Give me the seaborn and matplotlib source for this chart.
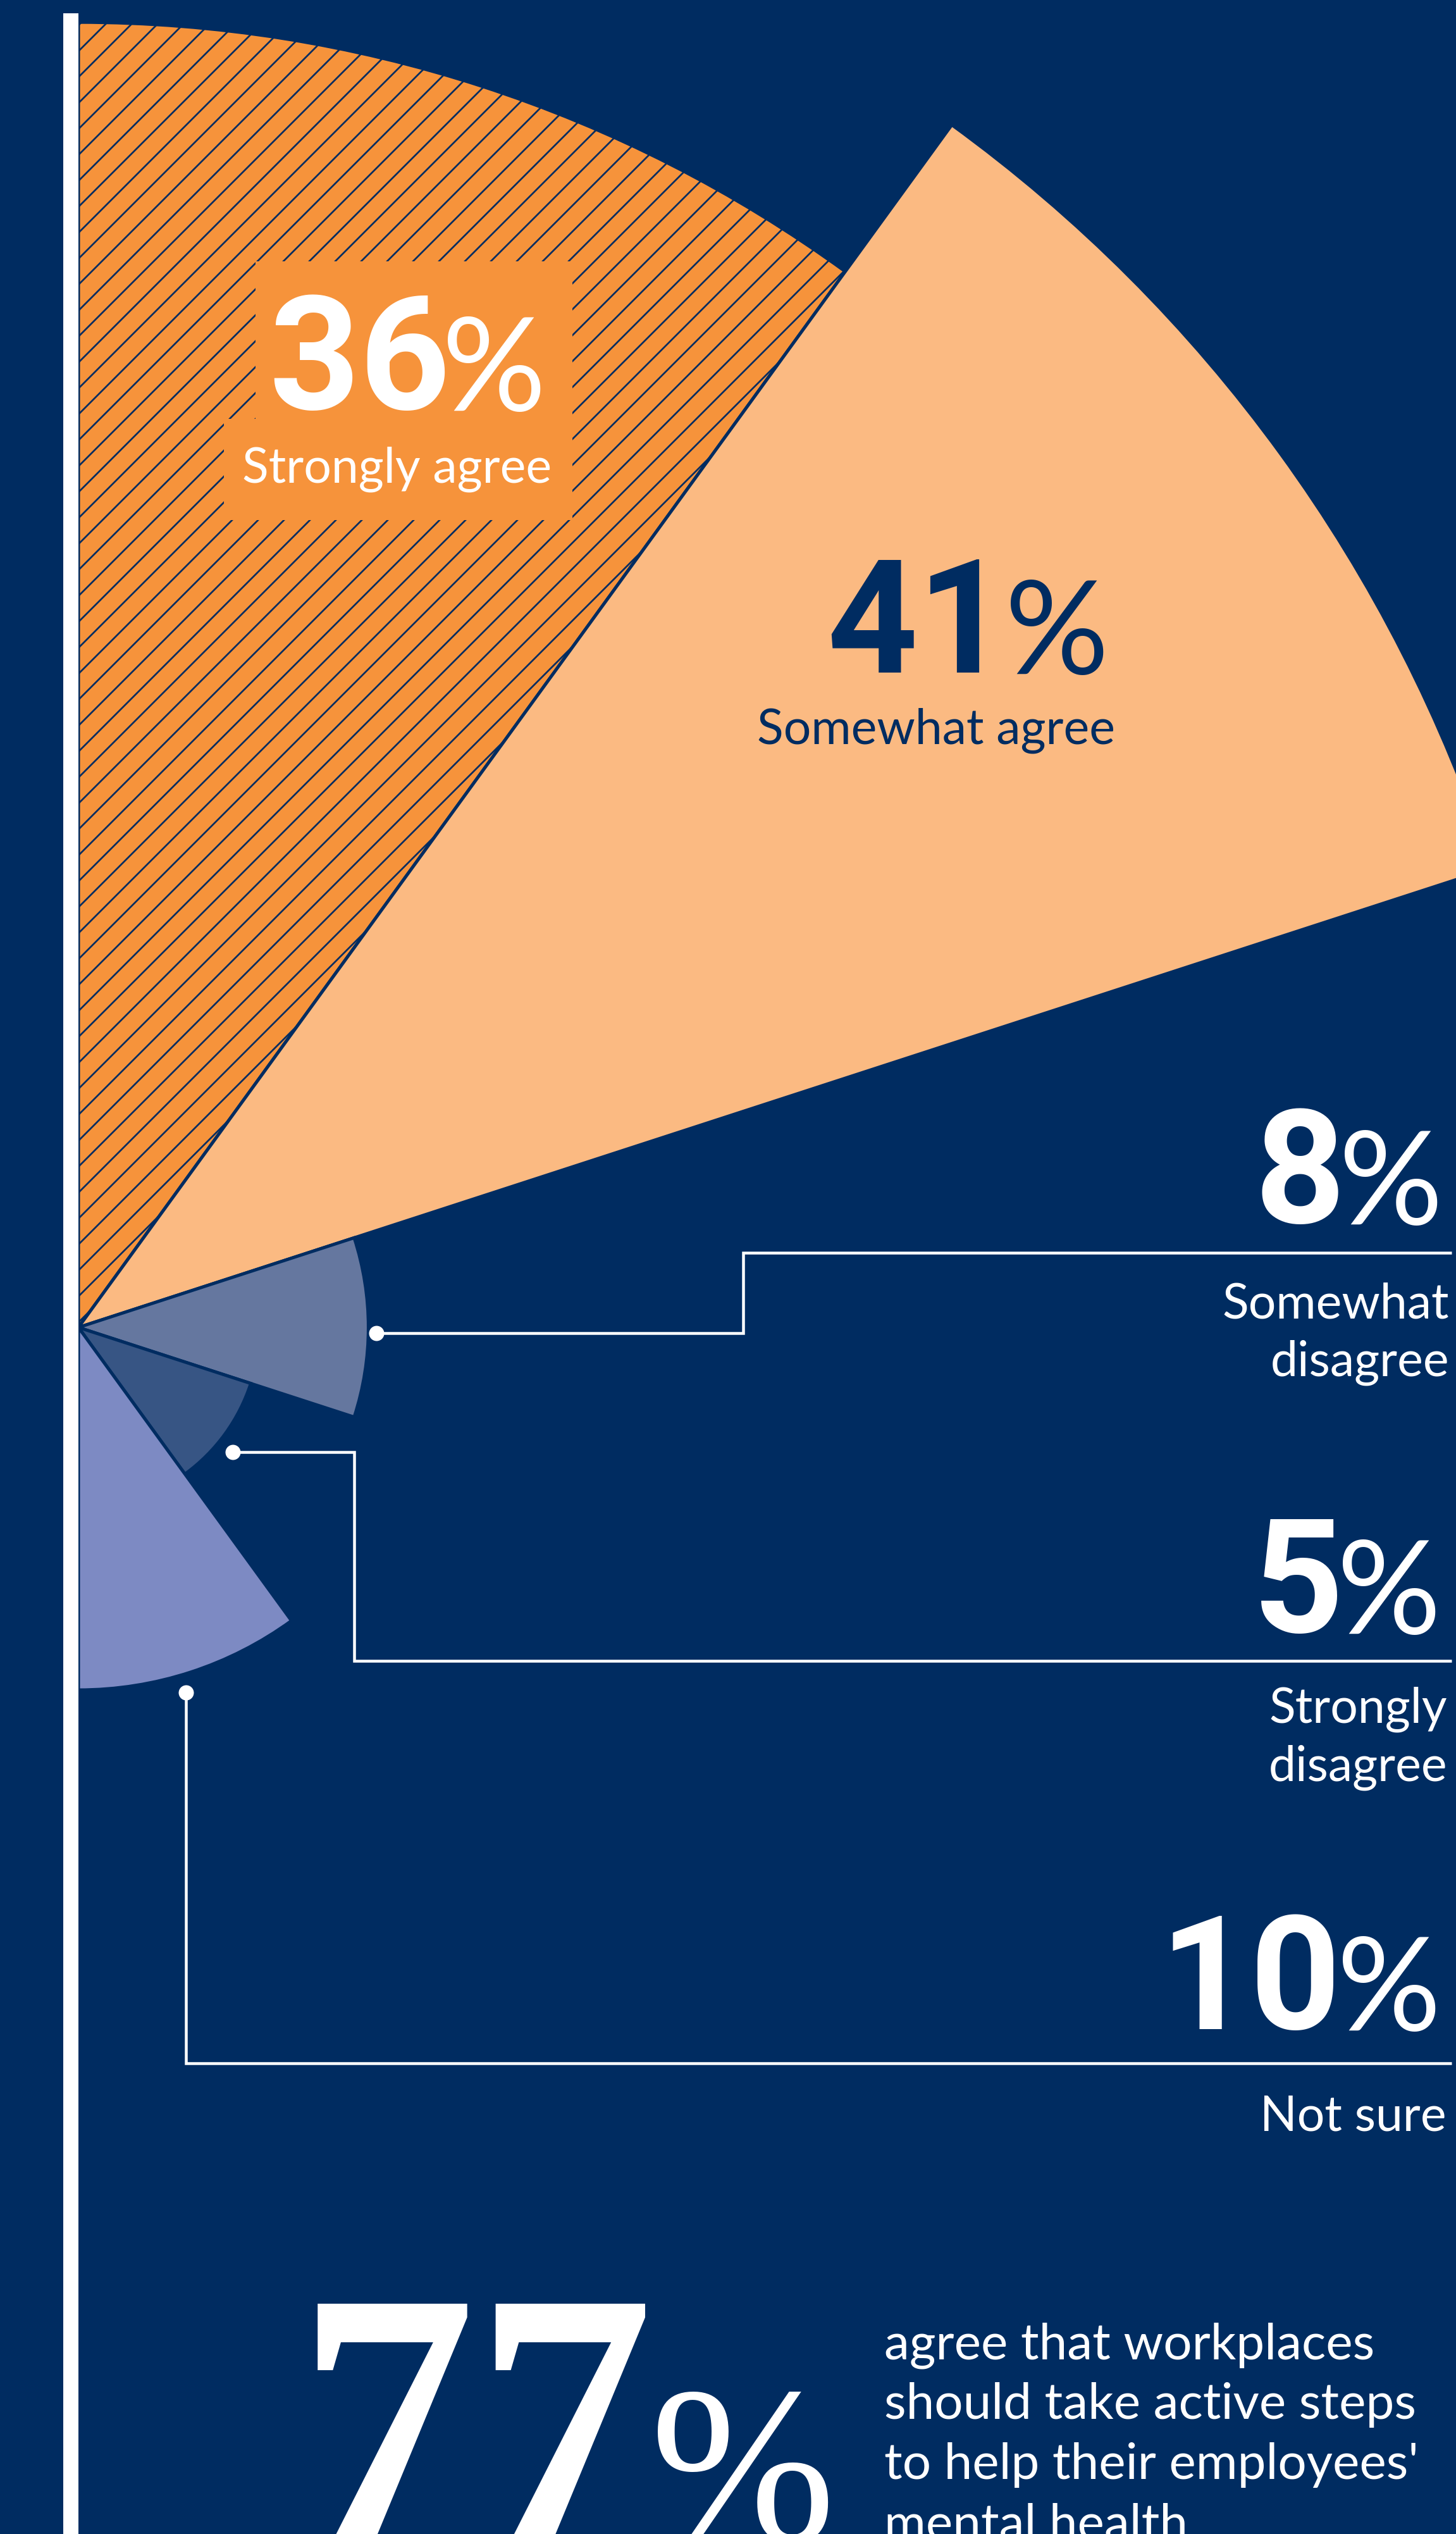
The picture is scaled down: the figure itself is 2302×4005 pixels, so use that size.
import numpy as np
import matplotlib
matplotlib.use("Agg")
import matplotlib.pyplot as plt
import seaborn as sns
from matplotlib.patches import Rectangle

# ---------------- data ----------------
categories = ["Strongly agree", "Somewhat agree", "Somewhat disagree",
              "Strongly disagree", "Not sure"]
values = [36, 41, 8, 5, 10]
value_labels = ["36", "41", "8", "5", "10"]
label_texts = ["Strongly agree", "Somewhat agree", "Somewhat\ndisagree",
               "Strongly\ndisagree", "Not sure"]
wedge_colors = ["#F6933B", "#FBBA82", "#65779F", "#375584", "#7D8AC3"]
headline_value = "77"
headline_lines = ["agree that workplaces", "should take active steps",
                  "to help their employees'", "mental health"]

NAVY = "#002C61"
WHITE = "#FFFFFF"
ORANGE = wedge_colors[0]

# ---------------- figure geometry (pixels) ----------------
W, H = 2302, 4005
DPI = 123


def pt(px):
    return px * 72.0 / DPI


sns.set_theme(style="white")
plt.rcParams["font.family"] = ["Lato", "DejaVu Sans"]
plt.rcParams["hatch.linewidth"] = pt(2.7)
plt.rcParams["hatch.color"] = NAVY

fig = plt.figure(figsize=(W / DPI, H / DPI), dpi=DPI, facecolor=NAVY)

# ---------------- polar area (rose) chart ----------------
CX, CY = 124, 2098      # centre of the rose, px from left / top
K = 57.3                # px per percentage point
RMAX = 44
R = RMAX * K
axp = fig.add_axes([(CX - R) / W, (H - CY - R) / H, 2 * R / W, 2 * R / H],
                   projection="polar")
axp.set_theta_zero_location("N")
axp.set_theta_direction(-1)
n = len(values)
width = np.pi / n
theta = (np.arange(n) + 0.5) * width
bars = axp.bar(theta, values, width=width, bottom=0, color=wedge_colors,
               edgecolor=NAVY, linewidth=pt(5), align="center")
bars[0].set_hatch("/")
axp.set_ylim(0, RMAX)
axp.set_axis_off()

# ---------------- overlay for annotations ----------------
ax = fig.add_axes([0, 0, 1, 1])
ax.set_xlim(0, W)
ax.set_ylim(H, 0)
ax.set_axis_off()

# white vertical rule
ax.add_patch(Rectangle((100, 21), 24, H, facecolor=WHITE, edgecolor="none", zorder=6))

# orange label box for "Strongly agree"
ax.add_patch(Rectangle((404, 413), 501, 250, facecolor=ORANGE, edgecolor="none", zorder=3))
ax.add_patch(Rectangle((354, 662), 551, 160, facecolor=ORANGE, edgecolor="none", zorder=3))

# connectors for the small wedges
connectors = [
    ([595, 1175, 1175, 2295], [2107, 2107, 1980, 1980]),
    ([368, 560, 560, 2295], [2295, 2295, 2625, 2625]),
    ([294, 294, 2295], [2675, 3261, 3261]),
]
for xs, ys in connectors:
    ax.plot(xs, ys, color=WHITE, lw=pt(4.5), solid_joinstyle="miter",
            solid_capstyle="butt", zorder=5)
    ax.plot(xs[0], ys[0], "o", color=WHITE, ms=pt(24), mew=0, zorder=6)

# value + label text placements: (digits right x, baseline, % right x, label right x, label baseline)
placements = [
    (712, 647, 863, 872, 763),
    (1594, 1063, 1753, 1763, 1176),
    (2127, 1933, 2281, 2291, 2083),
    (2124, 2580, 2278, 2288, 2723),
    (2120, 3207, 2278, 2287, 3368),
]
text_colors = [WHITE, NAVY, WHITE, WHITE, WHITE]
for vl, lab, (dx, dy, px_, lx, ly), tc in zip(value_labels, label_texts,
                                               placements, text_colors):
    ax.text(dx, dy, vl, ha="right", va="baseline", fontsize=pt(250),
            family=["Roboto", "DejaVu Sans"], fontweight="bold", color=tc, zorder=7)
    ax.text(px_, dy + 2, "%", ha="right", va="baseline", fontsize=pt(205),
            fontweight="normal", color=tc, zorder=7)
    for i, line in enumerate(lab.split("\n")):
        ax.text(lx, ly + i * 92, line, ha="right", va="baseline",
                fontsize=pt(77), color=tc, zorder=7)

# headline 77%
ax.text(470, 4010, headline_value, ha="left", va="baseline", fontsize=pt(565),
        family=["Liberation Serif", "DejaVu Serif"], fontweight="bold",
        color=WHITE, zorder=7)
ax.text(1028, 4014, "%", ha="left", va="baseline", fontsize=pt(352),
        family=["Liberation Serif", "DejaVu Serif"], color=WHITE, zorder=7)
for i, line in enumerate(headline_lines):
    ax.text(1398, 3728 + i * 95, line, ha="left", va="baseline",
            fontsize=pt(80), color=WHITE, zorder=7)

fig.savefig("out.png", dpi=DPI, facecolor=NAVY)
